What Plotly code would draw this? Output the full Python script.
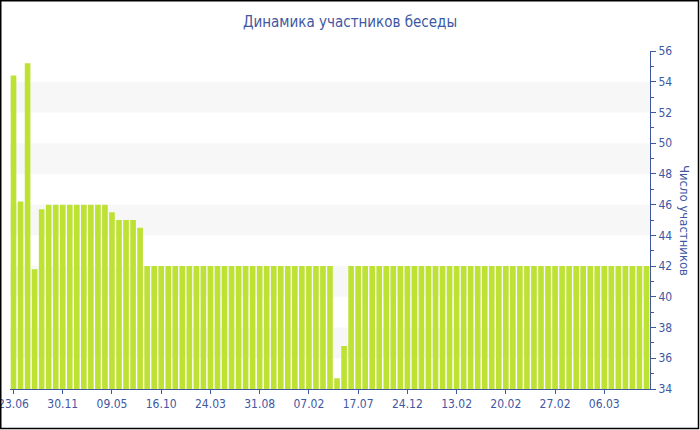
import plotly.graph_objects as go

# число участников по дням (читаются с картинки)
participants = [
    54.4, 46.2, 55.2, 41.8, 45.7,
    46, 46, 46, 46, 46, 46, 46, 46, 46,
    45.5, 45, 45, 45, 44.5,
    42, 42, 42, 42, 42, 42, 42, 42, 42, 42, 42, 42, 42, 42, 42, 42, 42, 42,
    42, 42, 42, 42, 42, 42, 42, 42, 42,
    34.7, 36.8,
    42, 42, 42, 42, 42, 42, 42, 42, 42, 42, 42, 42, 42, 42, 42, 42, 42, 42,
    42, 42, 42, 42, 42, 42, 42, 42, 42, 42, 42, 42, 42, 42, 42, 42, 42, 42,
    42, 42, 42, 42, 42, 42, 42,
]

tick_labels = ["23.06", "30.11", "09.05", "16.10", "24.03", "31.08", "07.02",
               "17.07", "24.12", "13.02", "20.02", "27.02", "06.03"]
tick_step = 7

y_min, y_max = 34, 56
bands = [(36, 38), (40, 42), (44, 46), (48, 50), (52, 54)]

BLUE = "#4057a3"
GREEN = "#bde233"
FONT = "DejaVu Sans Condensed, DejaVu Sans, sans-serif"

idx = list(range(len(participants)))

W, H = 700, 430
L, R, T, B = 10, 50, 51, 41

fig = go.Figure()

fig.add_trace(
    go.Bar(
        x=idx,
        y=participants,
        marker=dict(color=GREEN, line=dict(width=0)),
        hovertemplate="%{y}<extra></extra>",
    )
)

shapes = []
for lo, hi in bands:
    shapes.append(dict(
        type="rect", xref="paper", yref="y", x0=0, x1=1, y0=lo, y1=hi,
        fillcolor="#f7f7f7", line=dict(width=0), layer="below",
    ))

# рамка вокруг всей картинки
pw, ph = W - L - R, H - T - B
shapes.append(dict(
    type="rect", xref="paper", yref="paper",
    x0=(0.75 - L) / pw, x1=(698.5 - L) / pw,
    y0=(H - B - 428.5) / ph, y1=(H - B - 0.75) / ph,
    line=dict(color="black", width=1.5), fillcolor="rgba(0,0,0,0)",
))

fig.update_layout(
    width=W,
    height=H,
    margin=dict(l=L, r=R, t=T, b=B, autoexpand=False),
    paper_bgcolor="white",
    plot_bgcolor="white",
    font=dict(family=FONT, size=12, color=BLUE),
    title=dict(
        text="Динамика участников беседы",
        x=0.5,
        xanchor="center",
        y=1 - 22 / H,
        yanchor="middle",
        font=dict(size=15, color=BLUE),
    ),
    bargap=0.2,
    showlegend=False,
    shapes=shapes,
    annotations=[dict(
        text="Число участников",
        xref="paper", yref="paper",
        x=1 + 35 / pw, y=0.5,
        xanchor="center", yanchor="middle",
        textangle=90, showarrow=False,
        font=dict(size=13, color=BLUE),
    )],
)

fig.update_xaxes(
    range=[-0.5, len(participants) - 0.5],
    tickmode="array",
    tickvals=[i * tick_step for i in range(len(tick_labels))],
    ticktext=tick_labels,
    showgrid=False,
    zeroline=False,
    showline=True,
    linecolor=BLUE,
    linewidth=1,
    ticks="outside",
    ticklen=4,
    tickcolor=BLUE,
    tickfont=dict(size=12, color=BLUE),
    ticklabeloverflow="allow",
    automargin=False,
    fixedrange=True,
)

fig.update_yaxes(
    side="right",
    range=[y_min, y_max],
    tickmode="array",
    tickvals=list(range(y_min, y_max + 1, 2)),
    showgrid=False,
    zeroline=False,
    showline=True,
    linecolor=BLUE,
    linewidth=1,
    ticks="outside",
    ticklen=5,
    tickcolor=BLUE,
    tickfont=dict(size=12, color=BLUE),
    minor=dict(
        tickmode="array",
        tickvals=list(range(y_min + 1, y_max, 2)),
        ticks="outside",
        ticklen=3,
        tickcolor=BLUE,
    ),
    automargin=False,
    fixedrange=True,
)

# убрать отступ страницы, чтобы рисунок начинался с угла окна
fig.write_html(
    "out.html",
    config={"displayModeBar": False},
    post_script="document.body.style.margin='0';",
)
